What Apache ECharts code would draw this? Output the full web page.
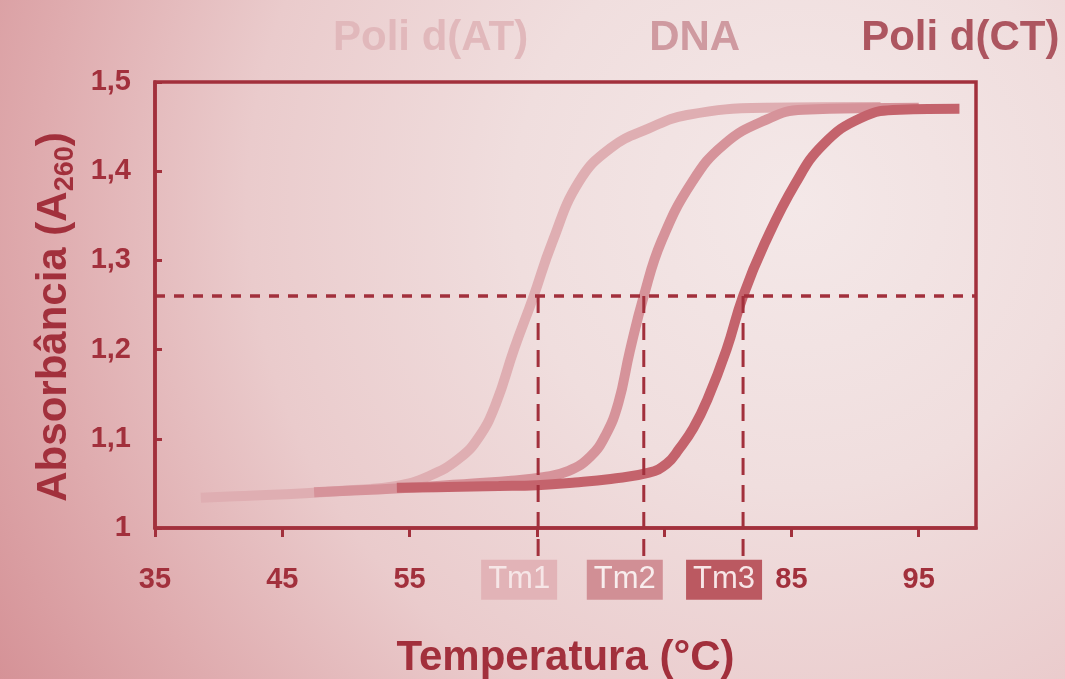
<!DOCTYPE html>
<html>
<head>
<meta charset="utf-8">
<script src="https://cdn.jsdelivr.net/npm/echarts@6/dist/echarts.min.js"></script>
<style>
html,body{margin:0;padding:0;}
#chart{width:1065px;height:679px;}
</style>
</head>
<body>
<div id="chart"></div>
<script>
// ---- data ----
const seriesNames = ['Poli d(AT)', 'DNA', 'Poli d(CT)'];

const tempAT = [38.6, 42.0, 46.8, 50.0, 53.9, 56.5, 58.9, 60.5, 61.8, 63.2, 64.7, 66.2, 68.3, 70.8, 73.8, 76.8, 82.9, 92.0];
const absAT  = [1.034, 1.036, 1.039, 1.042, 1.047, 1.058, 1.078, 1.103, 1.140, 1.200, 1.258, 1.320, 1.388, 1.426, 1.448, 1.463, 1.471, 1.472];

const tempDNA = [47.5, 52.0, 56.0, 60.0, 63.0, 65.5, 67.5, 69.2, 70.4, 71.4, 72.3, 73.4, 74.8, 77.2, 79.7, 82.9, 85.9, 95.0];
const absDNA  = [1.040, 1.043, 1.046, 1.050, 1.053, 1.057, 1.064, 1.080, 1.104, 1.140, 1.198, 1.260, 1.322, 1.388, 1.430, 1.457, 1.469, 1.471];

const tempCT = [54.0, 58.0, 62.0, 65.0, 68.0, 70.8, 73.8, 75.2, 76.2, 77.3, 78.4, 79.9, 81.2, 82.9, 85.3, 87.5, 90.5, 93.5, 98.2];
const absCT  = [1.045, 1.046, 1.047, 1.048, 1.051, 1.055, 1.062, 1.072, 1.089, 1.112, 1.144, 1.200, 1.260, 1.319, 1.386, 1.430, 1.460, 1.469, 1.470];

const tmValues = [65.1, 73.4, 81.2];
const tmLabels = ['Tm1', 'Tm2', 'Tm3'];
const halfLevel = 1.26;

const xTickLabels = {35: '35', 45: '45', 55: '55', 85: '85', 95: '95'};
const yTickLabels = ['1', '1,1', '1,2', '1,3', '1,4', '1,5'];

// ---- styles ----
const FONT = "'Liberation Sans', Arial, sans-serif";
const AXIS_RED = '#a2303c';
const lineColors = ['#dfaeb2', '#d6939a', '#c4636c'];
const legendColors = ['#e1b8bb', '#cf9aa0', '#ad5660'];
const tmBoxColors = ['#e2b3b7', '#d18f95', '#bb5961'];
const tmTextColors = ['#f6e6e7', '#f8eded', '#f7e6e7'];
const TM_LINE_END = 0.965;   // value where dashed drop lines stop (below axis)
const TM_BOX_LEVEL = 0.942;  // value where Tm boxes are centred

function pairs(xs, ys) { return xs.map((x, i) => [x, ys[i]]); }

const curveData = [pairs(tempAT, absAT), pairs(tempDNA, absDNA), pairs(tempCT, absCT)];

const chart = echarts.init(document.getElementById('chart'), null, {renderer: 'canvas'});

const curveSeries = seriesNames.map((name, i) => ({
  name: name,
  type: 'line',
  data: curveData[i],
  showSymbol: false,
  smooth: 0.45,
  lineStyle: {color: lineColors[i], width: 10, cap: 'butt'},
  itemStyle: {color: lineColors[i]},
  z: 2 + i,
  silent: true
}));

const hLineSeries = {
  name: 'half',
  type: 'line',
  data: [],
  z: 10,
  silent: true,
  markLine: {
    silent: true,
    symbol: ['none', 'none'],
    label: {show: false},
    data: [
      [{coord: [35, halfLevel], lineStyle: {type: [10, 9], width: 3.5, color: AXIS_RED}},
       {coord: [99.5, halfLevel]}]
    ]
  }
};

const tmSeries = {
  name: 'tm',
  type: 'custom',
  coordinateSystem: 'cartesian2d',
  clip: false,
  silent: true,
  z: 11,
  data: tmValues.map(t => [t, halfLevel]),
  renderItem: function (params, api) {
    const i = params.dataIndex;
    const t = api.value(0);
    const p1 = api.coord([t, api.value(1)]);
    const p2 = api.coord([t, TM_LINE_END]);
    const pb = api.coord([t, TM_BOX_LEVEL]);
    return {
      type: 'group',
      children: [
        {
          type: 'line',
          shape: {x1: p1[0], y1: p1[1], x2: p2[0], y2: p2[1]},
          style: {stroke: AXIS_RED, lineWidth: 3, lineDash: [17, 10]}
        },
        {
          type: 'text',
          x: pb[0] - 19,
          y: pb[1],
          style: {
            text: tmLabels[i],
            fill: tmTextColors[i],
            fontSize: 31,
            fontFamily: FONT,
            lineHeight: 32,
            align: 'center',
            verticalAlign: 'middle',
            textAlign: 'center',
            textVerticalAlign: 'middle',
            backgroundColor: tmBoxColors[i],
            padding: [4, 7, 4, 7]
          }
        }
      ]
    };
  }
};

const option = {
  animation: false,
  backgroundColor: {
    type: 'radial', x: 0.75, y: 0.3, r: 1.4,
    colorStops: [
      {offset: 0, color: '#f4e8e8'},
      {offset: 0.3, color: '#f0dede'},
      {offset: 0.58, color: '#eacbcc'},
      {offset: 0.8, color: '#dfabae'},
      {offset: 1, color: '#d48f94'}
    ]
  },
  legend: {
    show: true,
    left: 323,
    top: 12,
    itemWidth: 0,
    itemHeight: 0,
    itemGap: 116,
    icon: 'none',
    selectedMode: false,
    data: seriesNames.map((n, i) => ({
      name: n,
      icon: 'none',
      textStyle: {color: legendColors[i], fontSize: 42, fontWeight: 'bold', fontFamily: FONT}
    }))
  },
  grid: {
    left: 155, right: 89, top: 82, bottom: 151,
    outerBoundsMode: 'none',
    containLabel: false,
    show: true,
    borderColor: AXIS_RED,
    borderWidth: 3.5,
    backgroundColor: 'transparent'
  },
  xAxis: {
    type: 'value',
    min: 35, max: 99.5, interval: 10,
    name: 'Temperatura (°C)',
    nameLocation: 'middle',
    nameGap: 109,
    nameTextStyle: {color: AXIS_RED, fontSize: 42, fontWeight: 'bold', fontFamily: FONT},
    splitLine: {show: false},
    axisLine: {show: true, lineStyle: {color: AXIS_RED, width: 3.5}},
    axisTick: {show: true, inside: false, length: 9, lineStyle: {color: AXIS_RED, width: 3}},
    axisLabel: {
      show: true,
      showMaxLabel: false,
      margin: 37,
      color: AXIS_RED,
      fontSize: 29,
      fontWeight: 'bold',
      fontFamily: FONT,
      formatter: v => (xTickLabels[Math.round(v)] !== undefined && Math.abs(v - Math.round(v)) < 1e-6) ? xTickLabels[Math.round(v)] : ''
    }
  },
  yAxis: {
    type: 'value',
    min: 1, max: 1.5, interval: 0.1,
    name: '{t|Absorbância (A}{s|260}{t|)}',
    nameLocation: 'middle',
    nameGap: 76,
    nameRotate: 90,
    nameTextStyle: {
      color: AXIS_RED,
      fontFamily: FONT,
      padding: [0, 24, 0, 0],
      rich: {
        t: {fontSize: 42, fontWeight: 'bold', color: AXIS_RED, fontFamily: FONT, lineHeight: 50},
        s: {fontSize: 27, fontWeight: 'bold', color: AXIS_RED, fontFamily: FONT, lineHeight: 27, verticalAlign: 'bottom'}
      }
    },
    splitLine: {show: false},
    axisLine: {show: true, lineStyle: {color: AXIS_RED, width: 3.5}},
    axisTick: {show: true, inside: true, length: 7, lineStyle: {color: AXIS_RED, width: 3}},
    axisLabel: {
      show: true,
      margin: 24,
      color: AXIS_RED,
      fontSize: 29,
      fontWeight: 'bold',
      fontFamily: FONT,
      formatter: v => yTickLabels[Math.round((v - 1) / 0.1)] || ''
    }
  },
  series: curveSeries.concat([hLineSeries, tmSeries])
};

chart.setOption(option);
</script>
</body>
</html>
